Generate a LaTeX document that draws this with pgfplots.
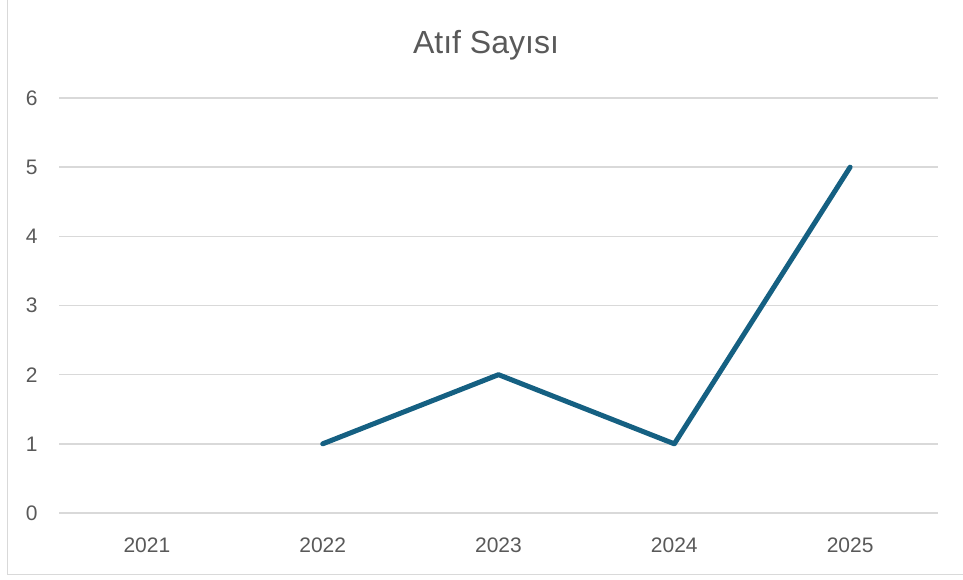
\documentclass[border=0pt]{standalone}
\usepackage{pgfplots}
\pgfplotsset{compat=1.18}
\usepackage{fontspec}
\setmainfont{Liberation Sans}
\definecolor{linec}{HTML}{156082}
\definecolor{gridc}{HTML}{D9D9D9}
\definecolor{textc}{HTML}{595959}
\begin{document}
\begin{tikzpicture}[x=1pt,y=1pt]
\useasboundingbox (0,0) rectangle (963,579);
\draw[gridc, line width=1.5pt] (7.5,600) -- (7.5,4.5) -- (980,4.5);
\node[text=textc, font=\fontsize{32}{38}\selectfont] at (486,534) {Atıf Sayısı};
\begin{axis}[
  at={(59pt,66pt)}, anchor=south west,
  scale only axis, width=879pt, height=415pt,
  xmin=-0.5, xmax=4.5, ymin=0, ymax=6,
  xtick={0,1,2,3,4}, xticklabels={2021,2022,2023,2024,2025},
  ytick={0,1,2,3,4,5,6},
  axis line style={draw=none}, tick style={draw=none},
  ymajorgrids, grid style={gridc, line width=1.5pt},
  ticklabel style={text=textc, font=\fontsize{21}{25}\selectfont},
  /pgf/number format/assume math mode=true,
  yticklabel style={xshift=-18pt},
  xticklabel style={yshift=-21pt},
  clip=false,
]
\addplot[linec, line width=5pt, line join=round, line cap=round] coordinates {(1,1) (2,2) (3,1) (4,5)};
\end{axis}
\end{tikzpicture}
\end{document}
